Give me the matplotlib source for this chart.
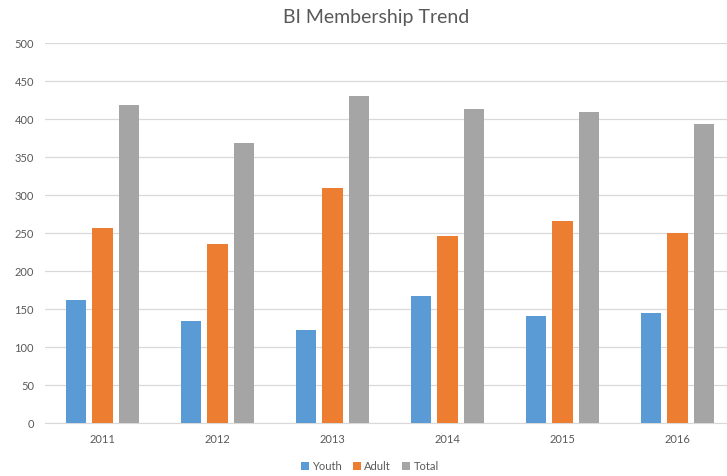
import matplotlib.pyplot as plt
import numpy as np

plt.rcParams["font.family"] = ["Lato", "DejaVu Sans"]

YEARS = ['2011', '2012', '2013', '2014', '2015', '2016']
YOUTH = [162, 134, 122, 167, 141, 145]
ADULT = [256, 236, 309, 246, 266, 250]
TOTAL = [418, 369, 430, 413, 409, 393]

SERIES = ['Youth', 'Adult', 'Total']
COLORS = ['#5B9BD5', '#ED7D31', '#A5A5A5']
TEXT = '#595959'

fig = plt.figure(figsize=(7.27, 4.77), dpi=100)
ax = fig.add_axes([45 / 727, 53 / 477, 690 / 727, 380 / 477])

x = np.arange(len(YEARS))
width = 0.175
step = 0.228
for i, (name, vals, color) in enumerate(zip(SERIES, [YOUTH, ADULT, TOTAL], COLORS)):
    ax.bar(x + (i - 1) * step, vals, width, color=color, label=name, zorder=3)

ax.set_xlim(-0.5, len(YEARS) - 0.5)
ax.set_ylim(0, 500)
ax.set_yticks(range(0, 501, 50))
ax.set_xticks(x)
ax.set_xticklabels(YEARS)
ax.grid(axis='y', color='#D9D9D9', linewidth=0.9, zorder=0)
for side in ['top', 'right', 'left']:
    ax.spines[side].set_visible(False)
ax.spines['bottom'].set_color('#D9D9D9')
ax.tick_params(length=0, labelsize=8, colors=TEXT)
ax.tick_params(axis='y', pad=8)
ax.tick_params(axis='x', pad=7)

fig.text(376 / 727, 1 - 17 / 477, 'BI Membership Trend', ha='center', va='center',
         fontsize=14, color=TEXT)

fig.legend(loc='center', bbox_to_anchor=(370 / 727, 1 - 467 / 477), ncol=3, frameon=False,
           fontsize=8, labelcolor=TEXT, handlelength=0.7, handleheight=0.7,
           handletextpad=0.3, columnspacing=1.0)

fig.savefig('out.png', dpi=100)
